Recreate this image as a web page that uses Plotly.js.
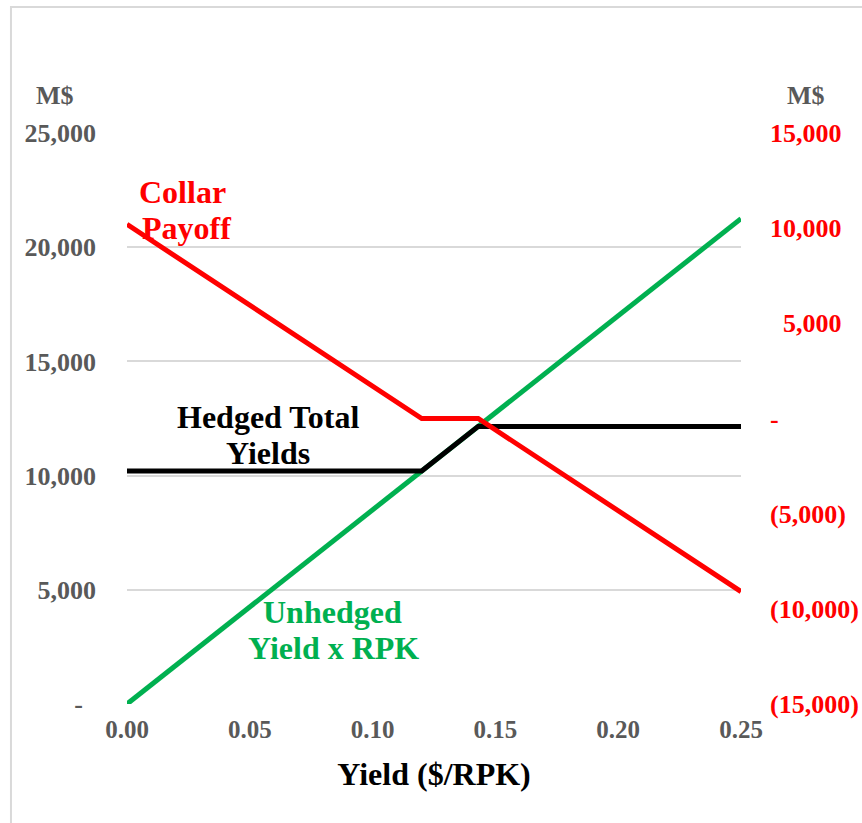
<!DOCTYPE html>
<html><head><meta charset="utf-8">
<script src="https://cdn.plot.ly/plotly-3.0.1.min.js"></script>
<style>html,body{margin:0;padding:0;background:#fff;}#chart{width:862px;height:823px;}</style>
</head><body><div id="chart"></div>
<script>
// Data
const yieldX = [0, 0.12, 0.143, 0.25];
const unhedged = [0, 10200, 12155, 21250];
const hedged = [10200, 10200, 12155, 12155];
const collar = [10200, 0, 0, -9095];
const leftTicks = [0, 5000, 10000, 15000, 20000, 25000];
const leftTickText = ['-\u00a0\u00a0', '5,000', '10,000', '15,000', '20,000', '25,000'];
const rightTicks = [-15000, -10000, -5000, 0, 5000, 10000, 15000];
const rightTickText = ['(15,000)', '(10,000)', '(5,000)', '-', '\u00a0\u00a05,000', '10,000', '15,000'];
const xTicks = [0, 0.05, 0.10, 0.15, 0.20, 0.25];
const xTickText = ['0.00', '0.05', '0.10', '0.15', '0.20', '0.25'];

const FONT = 'Liberation Serif, Times New Roman, serif';
const traces = [
  {x: yieldX, y: unhedged, mode: 'lines', line: {color: '#00b050', width: 5}, yaxis: 'y', hoverinfo: 'none'},
  {x: yieldX, y: hedged, mode: 'lines', line: {color: '#000000', width: 5}, yaxis: 'y', hoverinfo: 'none'},
  {x: yieldX, y: collar, mode: 'lines', line: {color: '#ff0000', width: 5}, yaxis: 'y2', hoverinfo: 'none'}
];
function lbl(x, y, text, color, size) {
  return {xref: 'paper', yref: 'paper', x: x, y: y, xanchor: 'center', yanchor: 'middle',
          text: '<b>' + text + '</b>', showarrow: false, font: {family: FONT, size: size, color: color}};
}
const layout = {
  width: 862, height: 823,
  margin: {l: 127, r: 121, t: 133, b: 119},
  paper_bgcolor: '#fff', plot_bgcolor: '#fff',
  showlegend: false,
  font: {family: FONT},
  xaxis: {
    range: [0, 0.25], tickvals: xTicks, ticktext: xTickText,
    showgrid: false, zeroline: false, showline: false, ticks: '',
    tickfont: {family: FONT, size: 25, color: '#595959', weight: 'bold'},
    ticklabelstandoff: 8,
    title: {text: '<b>Yield ($/RPK)</b>', font: {family: FONT, size: 32, color: '#000'}, standoff: 20}
  },
  yaxis: {
    range: [0, 25000], tickvals: leftTicks, ticktext: leftTickText,
    showgrid: true, gridcolor: '#d9d9d9', gridwidth: 2, zeroline: false, showline: false, ticks: '',
    tickfont: {family: FONT, size: 26, color: '#595959', weight: 'bold'},
    ticklabelstandoff: 30
  },
  yaxis2: {
    range: [-15000, 15000], tickvals: rightTicks, ticktext: rightTickText,
    overlaying: 'y', side: 'right',
    showgrid: false, zeroline: false, showline: false, ticks: '',
    tickfont: {family: FONT, size: 26, color: '#ff0000', weight: 'bold'},
    ticklabelstandoff: 28
  },
  annotations: [
    lbl(-0.117, 1.0648, 'M$', '#595959', 26),
    lbl(1.106, 1.0648, 'M$', '#595959', 26),
    lbl(0.0912, 0.8967, 'Collar', '#ff0000', 32),
    lbl(0.0977, 0.8336, 'Payoff', '#ff0000', 32),
    lbl(0.2296, 0.5026, 'Hedged Total', '#000000', 32),
    lbl(0.2296, 0.4396, 'Yields', '#000000', 32),
    lbl(0.3355, 0.1611, 'Unhedged', '#00b050', 32),
    lbl(0.3370, 0.0981, 'Yield x RPK', '#00b050', 32)
  ],
  shapes: [
    {type: 'rect', xref: 'paper', yref: 'paper', x0: -0.189, x1: 1.25, y0: -0.25, y1: 1.2207, line: {color: '#d9d9d9', width: 2}, fillcolor: 'rgba(0,0,0,0)', layer: 'below'}
  ]
};
Plotly.newPlot('chart', traces, layout, {staticPlot: true, displayModeBar: false});
</script></body></html>
